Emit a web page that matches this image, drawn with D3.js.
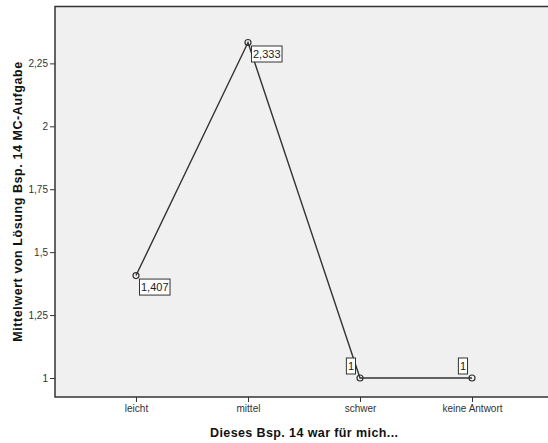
<!DOCTYPE html>
<html><head><meta charset="utf-8">
<script src="https://cdn.jsdelivr.net/npm/d3@7"></script>
<style>body{margin:0;background:#fff}svg{display:block}</style>
</head><body>
<script>
const categories = ["leicht", "mittel", "schwer", "keine Antwort"];
const values = [1.407, 2.333, 1, 1];
const valueLabels = ["1,407", "2,333", "1", "1"];
const yTicks = [1, 1.25, 1.5, 1.75, 2, 2.25];
const yTickLabels = ["1", "1,25", "1,5", "1,75", "2", "2,25"];
const xTitle = "Dieses Bsp. 14 war für mich...";
const yTitle = "Mittelwert von Lösung Bsp. 14 MC-Aufgabe";

const W = 548, H = 443;
const L = 55, T = 6.5, R = 553, B = 397;
const svg = d3.select("body").append("svg").attr("width", W).attr("height", H)
  .style("font-family", "'Liberation Sans', Arial, sans-serif");

const x = d3.scalePoint().domain(categories).range([L, R]).padding(0.723);
const y = d3.scaleLinear().domain([0.9245, 2.476]).range([B, T]);

svg.append("rect").attr("x", L).attr("y", T).attr("width", R - L).attr("height", B - T)
  .attr("fill", "#f0f0f0").attr("stroke", "#333").attr("stroke-width", 1.5);

const ya = svg.append("g").attr("transform", `translate(${L},0)`)
  .call(d3.axisLeft(y).tickValues(yTicks).tickSize(5).tickPadding(2)
    .tickFormat((d, i) => yTickLabels[i]));
ya.select(".domain").remove();
ya.selectAll("line").attr("stroke", "#333");
ya.selectAll("text").attr("fill", "#333").style("font-size", "10px").style("font-family", "'Liberation Sans', Arial, sans-serif");

const xa = svg.append("g").attr("transform", `translate(0,${B})`)
  .call(d3.axisBottom(x).tickSize(5).tickPadding(3));
xa.select(".domain").remove();
xa.selectAll("line").attr("stroke", "#333");
xa.selectAll("text").attr("fill", "#333").style("font-size", "10px").style("font-family", "'Liberation Sans', Arial, sans-serif");

const pts = categories.map((c, i) => ({c, v: values[i], lab: valueLabels[i]}));
svg.append("path").datum(pts)
  .attr("d", d3.line().x(d => x(d.c)).y(d => y(d.v)))
  .attr("fill", "none").attr("stroke", "#333").attr("stroke-width", 1.4);

svg.selectAll("circle.pt").data(pts).enter().append("circle")
  .attr("cx", d => x(d.c)).attr("cy", d => y(d.v)).attr("r", 3)
  .attr("fill", "none").attr("stroke", "#333").attr("stroke-width", 1.2);

const lg = svg.selectAll("g.lab").data(pts).enter().append("g");
lg.each(function(d) {
  const g = d3.select(this);
  const px = x(d.c), py = y(d.v);
  const t = g.append("text").text(d.lab).style("font-size", "11px").attr("fill", "#222");
  const w = t.node().getComputedTextLength();
  const bw = w + 3, bh = 16;
  let bx, by;
  if (d.v === 1) { bx = px - 4.5 - bw; by = py - 4 - bh; }
  else { bx = px + 3.5; by = py + 3.5; }
  g.insert("rect", "text").attr("x", bx).attr("y", by).attr("width", bw).attr("height", bh)
    .attr("fill", "#fff").attr("stroke", "#333").attr("stroke-width", 1);
  t.attr("x", bx + 1.5).attr("y", by + bh / 2 + 4);
});

svg.append("text").attr("x", (L + R) / 2).attr("y", 437).attr("text-anchor", "middle")
  .attr("textLength", 188).attr("lengthAdjust", "spacing")
  .style("font-size", "12.5px").style("font-weight", "bold").attr("fill", "#111").text(xTitle);
svg.append("text").attr("transform", `translate(22,${(T + B) / 2}) rotate(-90)`)
  .attr("text-anchor", "middle")
  .attr("textLength", 280).attr("lengthAdjust", "spacing")
  .style("font-size", "12.5px").style("font-weight", "bold").attr("fill", "#111").text(yTitle);
</script>
</body></html>
